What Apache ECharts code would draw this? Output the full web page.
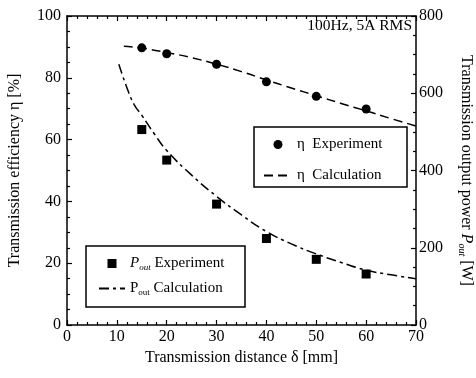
<!DOCTYPE html>
<html>
<head>
<meta charset="utf-8">
<script src="https://cdn.jsdelivr.net/npm/echarts@6/dist/echarts.min.js"></script>
<style>
  html, body { margin: 0; padding: 0; background: #fff; }
  #chart { width: 476px; height: 378px; }
</style>
</head>
<body>
<div id="chart"></div>
<script>
// measured points (mm)
const expDist = [15, 20, 30, 40, 50, 60]
const etaExp = [89.7, 87.8, 84.4, 78.7, 74.0, 69.9]
const poutExp = [506, 427, 313, 224, 170, 132]

// calculation curves
const etaCalcDist = [11.4, 15, 20, 25, 30, 35, 40, 45, 50, 55, 60, 65, 70]
const etaCalc = [90.2, 89.6, 88.2, 86.5, 84.4, 82.0, 79.3, 76.7, 74.2, 71.7, 69.3, 66.8, 64.4]
const poutCalcDist = [10.4, 12, 13.5, 15, 17.5, 20, 25, 30, 35, 40, 45, 50, 55, 60, 65, 70]
const poutCalc = [675, 615, 570, 543, 495, 452, 388, 333, 285, 242, 210, 184, 162, 142, 130, 120]

const xTicks = [0, 70, 10]
const leftTicks = [0, 100, 20]
const rightTicks = [0, 800, 200]

const pair = (xs, ys) => xs.map((x, i) => [x, ys[i]])

const font = 'Liberation Serif'
const chart = echarts.init(document.getElementById('chart'))

// fresh objects for every axis (onZero off, otherwise top/right axes jump to 0)
function axisLine() {
  return { show: true, onZero: false, lineStyle: { color: '#000', width: 1.5 } }
}
function tickStyle() {
  return { show: true, inside: true, length: 5, lineStyle: { color: '#000', width: 1.2 } }
}
function minorStyle(n) {
  return { show: true, splitNumber: n, length: 3, lineStyle: { color: '#000', width: 1.2 } }
}

const subRich = {
  p: { fontFamily: font, fontSize: 15, fontStyle: 'italic', color: '#000' },
  pn: { fontFamily: font, fontSize: 15, color: '#000' },
  s: { fontFamily: font, fontSize: 9, fontStyle: 'italic', color: '#000', padding: [8, 0, 0, 0] },
  sn: { fontFamily: font, fontSize: 9, color: '#000', padding: [8, 0, 0, 0] },
  t: { fontFamily: font, fontSize: 15, color: '#000' }
}

const squareIcon = 'path://M0 0H10V10H0Z'

let option = {
  backgroundColor: '#fff',
  animation: false,
  textStyle: { fontFamily: font, color: '#000' },
  grid: { left: 67, right: 60, top: 16, bottom: 53, outerBoundsMode: 'none', containLabel: false },
  xAxis: [
    {
      type: 'value', position: 'bottom',
      min: xTicks[0], max: xTicks[1], interval: xTicks[2],
      name: 'Transmission distance δ [mm]', nameLocation: 'middle', nameGap: 22,
      nameTextStyle: { fontFamily: font, fontSize: 16, color: '#000' },
      axisLine: axisLine(),
      axisTick: tickStyle(), minorTick: minorStyle(5),
      axisLabel: { fontFamily: font, fontSize: 16, color: '#000', margin: 4 },
      splitLine: { show: false }
    },
    {
      type: 'value', position: 'top',
      min: xTicks[0], max: xTicks[1], interval: xTicks[2],
      axisLine: axisLine(),
      axisTick: tickStyle(), minorTick: minorStyle(5),
      axisLabel: { show: false }, splitLine: { show: false }
    }
  ],
  yAxis: [
    {
      type: 'value', position: 'left',
      min: leftTicks[0], max: leftTicks[1], interval: leftTicks[2],
      name: 'Transmission efficiency η [%]', nameLocation: 'middle', nameGap: 44,
      nameTextStyle: { fontFamily: font, fontSize: 16, color: '#000' },
      axisLine: axisLine(),
      axisTick: tickStyle(), minorTick: minorStyle(4),
      axisLabel: { fontFamily: font, fontSize: 16, color: '#000', margin: 6 },
      splitLine: { show: false }
    },
    {
      type: 'value', position: 'right',
      min: rightTicks[0], max: rightTicks[1], interval: rightTicks[2],
      name: 'Transmission output power {p|P}{s|out} [W]', nameLocation: 'middle', nameGap: 41, nameRotate: -90,
      nameTextStyle: { fontFamily: font, fontSize: 16, color: '#000', rich: {
        p: { fontFamily: font, fontSize: 16, fontStyle: 'italic', color: '#000' },
        s: { fontFamily: font, fontSize: 10, fontStyle: 'italic', color: '#000', padding: [8, 0, 0, 0] }
      } },
      axisLine: axisLine(),
      axisTick: tickStyle(), minorTick: minorStyle(4),
      axisLabel: { fontFamily: font, fontSize: 16, color: '#000', margin: 3 },
      splitLine: { show: false }
    }
  ],
  legend: [
    {
      orient: 'vertical', left: 258, top: 132,
      itemWidth: 28, itemHeight: 9, itemGap: 16,
      data: [
        { name: 'η  Experiment' },
        { name: 'η  Calculation', itemStyle: { opacity: 0 } }
      ],
      textStyle: { fontFamily: font, fontSize: 15, color: '#000' }
    },
    {
      orient: 'vertical', left: 93, top: 251,
      itemWidth: 26, itemHeight: 9, itemGap: 9,
      data: [
        { name: 'Pexp', icon: squareIcon },
        { name: 'Pcalc', itemStyle: { opacity: 0 } }
      ],
      formatter: function (name) {
        return name === 'Pexp' ? '{p|P}{s|out} {t|Experiment}' : '{pn|P}{sn|out} {t|Calculation}'
      },
      textStyle: { fontFamily: font, fontSize: 15, color: '#000', rich: subRich }
    }
  ],
  graphic: [
    { type: 'rect', shape: { x: 254, y: 127, width: 153, height: 60 }, style: { fill: '#fff', stroke: '#000', lineWidth: 1.5 }, z: 0 },
    { type: 'rect', shape: { x: 86, y: 246, width: 159, height: 61 }, style: { fill: '#fff', stroke: '#000', lineWidth: 1.5 }, z: 0 },
    { type: 'text', right: 64, top: 18, style: { text: '100Hz, 5A RMS', fontFamily: font, fontSize: 15.5, fill: '#000' } }
  ],
  series: [
    {
      name: 'η  Experiment', type: 'scatter', xAxisIndex: 0, yAxisIndex: 0,
      symbol: 'circle', symbolSize: 9, itemStyle: { color: '#000', opacity: 1 },
      data: pair(expDist, etaExp), z: 5
    },
    {
      name: 'η  Calculation', type: 'line', xAxisIndex: 0, yAxisIndex: 0,
      smooth: true, symbol: 'none',
      lineStyle: { color: '#000', width: 1.5, type: [9, 5] }, itemStyle: { color: '#000' },
      data: pair(etaCalcDist, etaCalc), z: 4
    },
    {
      name: 'Pexp', type: 'scatter', xAxisIndex: 0, yAxisIndex: 1,
      symbol: 'rect', symbolSize: 9, itemStyle: { color: '#000', opacity: 1 },
      data: pair(expDist, poutExp), z: 5
    },
    {
      name: 'Pcalc', type: 'line', xAxisIndex: 0, yAxisIndex: 1,
      smooth: true, symbol: 'none',
      lineStyle: { color: '#000', width: 1.5, type: [10, 4, 3, 4] }, itemStyle: { color: '#000' },
      data: pair(poutCalcDist, poutCalc), z: 4
    }
  ]
}
chart.setOption(option)
</script>
</body>
</html>
